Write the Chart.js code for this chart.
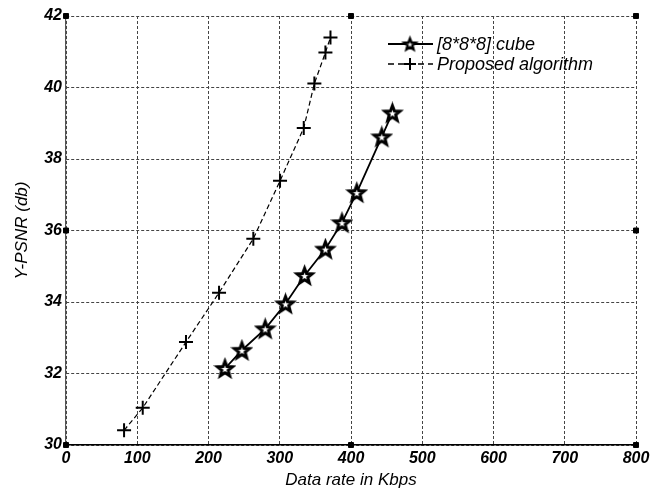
<!DOCTYPE html>
<html>
<head>
<meta charset="utf-8">
<script src="https://cdn.jsdelivr.net/npm/chart.js@4/dist/chart.umd.min.js"></script>
<style>
  html, body { margin: 0; padding: 0; background: #fff; }
  #wrap { width: 666px; height: 493px; position: relative; }
</style>
</head>
<body>
<div id="wrap"><canvas id="c" width="666" height="493"></canvas></div>
<script>
// Rate–distortion measurements (data rate in Kbps, luma PSNR in dB)
const seriesNames = ['[8*8*8] cube', 'Proposed algorithm'];
const rateCube = [223.1, 246.9, 279.6, 308.1, 334.9, 364.1, 387.3, 408.1, 443.2, 458.1];
const psnrCube = [32.14, 32.65, 33.25, 33.95, 34.74, 35.48, 36.22, 37.06, 38.62, 39.29];
const rateProposed = [81.5, 107.7, 168.4, 214.8, 262.9, 300.4, 333.7, 348.6, 364.1, 371.2];
const psnrProposed = [30.41, 31.04, 32.88, 34.26, 35.77, 37.39, 38.87, 40.11, 40.98, 41.40];

// Axis ranges and tick spacing
const xRange = [0, 800];
const xStep = 100;
const yRange = [30, 42];
const yStep = 2;

// Small square handles around the axes frame
const handleX = [0, 400, 800, 0, 800, 0, 400, 800];
const handleY = [42, 42, 42, 36, 36, 30, 30, 30];

const FONT = '"Liberation Sans", Arial, Helvetica, sans-serif';

function toPoints(xs, ys) { return xs.map((x, i) => ({ x: x, y: ys[i] })); }

// Pentagram marker drawn on an offscreen canvas
function makeStar(ro, ri, lw) {
  const s = Math.ceil(2 * ro + lw + 4), c = document.createElement('canvas');
  c.width = s; c.height = s;
  const g = c.getContext('2d');
  const cx = s / 2, cy = s / 2 + ro * 0.1;
  g.beginPath();
  for (let k = 0; k < 10; k++) {
    const r = k % 2 === 0 ? ro : ri;
    const a = -Math.PI / 2 + k * Math.PI / 5;
    const px = cx + r * Math.cos(a), py = cy + r * Math.sin(a);
    if (k === 0) g.moveTo(px, py); else g.lineTo(px, py);
  }
  g.closePath();
  g.fillStyle = '#fff';
  g.fill();
  g.lineWidth = lw;
  g.lineJoin = 'miter';
  g.strokeStyle = '#000';
  g.stroke();
  return c;
}
const starImg = makeStar(8, 3.4, 3);
const starLegendImg = makeStar(6, 2.6, 2.4);

// Legend in the upper right: line sample, marker, label
const lineLegend = {
  id: 'lineLegend',
  afterDraw(chart) {
    const ctx = chart.ctx;
    const x0 = 388, x1 = 433, xm = 410, tx = 437;
    const rows = [44, 64];
    ctx.save();
    [0, 1].forEach((di, r) => {
      const ds = chart.data.datasets[di];
      const y = rows[r];
      ctx.beginPath();
      ctx.setLineDash(di === 1 ? [6, 4] : []);
      ctx.lineWidth = di === 1 ? 1.6 : 2;
      ctx.strokeStyle = '#000';
      ctx.moveTo(x0, y); ctx.lineTo(x1, y);
      ctx.stroke();
      ctx.setLineDash([]);
      if (ds.pointStyle === 'cross') {
        ctx.lineWidth = 2;
        ctx.beginPath();
        ctx.moveTo(xm - 6, y); ctx.lineTo(xm + 6, y);
        ctx.moveTo(xm, y - 6); ctx.lineTo(xm, y + 6);
        ctx.stroke();
      } else {
        ctx.drawImage(starLegendImg, xm - starLegendImg.width / 2, y - starLegendImg.height / 2);
      }
      ctx.fillStyle = '#000';
      ctx.font = 'italic 18px ' + FONT;
      ctx.textBaseline = 'middle';
      ctx.textAlign = 'left';
      ctx.fillText(ds.label, tx, y + 1);
    });
    ctx.restore();
  }
};

new Chart(document.getElementById('c'), {
  type: 'scatter',
  data: {
    datasets: [
      {
        label: seriesNames[0],
        data: toPoints(rateCube, psnrCube),
        showLine: true,
        borderColor: '#000',
        borderWidth: 1.8,
        pointStyle: starImg,
        pointRadius: 8,
        tension: 0
      },
      {
        label: seriesNames[1],
        data: toPoints(rateProposed, psnrProposed),
        showLine: true,
        borderColor: '#000',
        borderWidth: 1.2,
        borderDash: [5, 3],
        pointStyle: 'cross',
        pointRadius: 7,
        pointBorderWidth: 2,
        pointBorderColor: '#000',
        tension: 0
      },
      {
        label: 'handles',
        data: toPoints(handleX, handleY),
        showLine: false,
        pointStyle: 'rect',
        pointRadius: 3.5,
        pointBackgroundColor: '#000',
        pointBorderColor: '#000',
        pointBorderWidth: 1,
        clip: false
      }
    ]
  },
  plugins: [lineLegend],
  options: {
    responsive: false,
    animation: false,
    events: [],
    layout: { padding: { top: 16, right: 30, left: 0, bottom: 0 } },
    plugins: {
      legend: { display: false },
      tooltip: { enabled: false }
    },
    scales: {
      x: {
        type: 'linear',
        min: xRange[0], max: xRange[1],
        afterFit(s) { s.height = 48; },
        ticks: {
          stepSize: xStep,
          padding: 4,
          color: '#000',
          font: { family: FONT, size: 16, style: 'italic', weight: 'bold' }
        },
        grid: { color: '#444', lineWidth: 1, drawTicks: false },
        border: { display: true, color: '#000', width: 1.5, dash: [3, 2] },
        title: {
          display: true,
          text: 'Data rate in Kbps',
          color: '#000',
          padding: { top: 0, bottom: 3 },
          font: { family: FONT, size: 17, style: 'italic' }
        }
      },
      y: {
        type: 'linear',
        min: yRange[0], max: yRange[1],
        afterFit(s) { s.width = 66; },
        ticks: {
          stepSize: yStep,
          padding: 4,
          color: '#000',
          font: { family: FONT, size: 16, style: 'italic', weight: 'bold' }
        },
        grid: { color: '#444', lineWidth: 1, drawTicks: false },
        border: { display: true, color: '#555', width: 1.2, dash: [3, 2] },
        title: {
          display: true,
          text: 'Y-PSNR (db)',
          color: '#000',
          padding: { top: 12, bottom: 0 },
          font: { family: FONT, size: 17, style: 'italic' }
        }
      }
    }
  }
});
</script>
</body>
</html>
